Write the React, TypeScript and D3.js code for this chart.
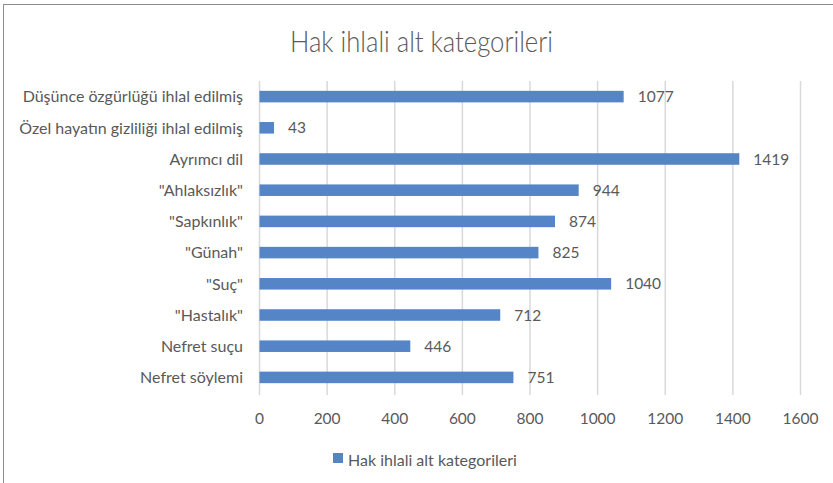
import React from "react";
import * as d3 from "d3";

const categories = [
  "Düşünce özgürlüğü ihlal edilmiş",
  "Özel hayatın gizliliği ihlal edilmiş",
  "Ayrımcı dil",
  "\"Ahlaksızlık\"",
  "\"Sapkınlık\"",
  "\"Günah\"",
  "\"Suç\"",
  "\"Hastalık\"",
  "Nefret suçu",
  "Nefret söylemi",
];
const values = [1077, 43, 1419, 944, 874, 825, 1040, 712, 446, 751];
const xTicks = [0, 200, 400, 600, 800, 1000, 1200, 1400, 1600];
const title = "Hak ihlali alt kategorileri";
const seriesName = "Hak ihlali alt kategorileri";

const W = 833;
const H = 483;
const FONT = "Lato, 'Open Sans', sans-serif";
const TEXT = "#595959";
const BAR = "#5585C6";
const GRID = "#D9D9D9";

export default function App() {
  const x = d3.scaleLinear().domain([0, 1600]).range([259.5, 800.5]);
  const y = d3
    .scaleBand<string>()
    .domain(categories)
    .range([81, 393])
    .paddingInner(0.63)
    .paddingOuter(0.315);

  return (
    <svg
      width={W}
      height={H}
      style={{ position: "absolute", left: 0, top: 0, background: "#fff" }}
      fontFamily={FONT}
    >
      <rect x={3.5} y={4.5} width={W + 10} height={H + 10} fill="#fff" stroke="#8C8C8C" strokeWidth={1} />
      <text
        x={421.5}
        y={51.5}
        textAnchor="middle"
        fontSize={29}
        fontWeight={300}
        fill={TEXT}
        textLength={263}
        lengthAdjust="spacingAndGlyphs"
      >
        {title}
      </text>
      {xTicks.map((t) => (
        <line key={"g" + t} x1={x(t)} x2={x(t)} y1={81} y2={395} stroke={GRID} strokeWidth={1.5} />
      ))}
      {categories.map((c, i) => {
        const yy = y(c)!;
        const bw = y.bandwidth();
        return (
          <g key={c}>
            <rect x={x(0)} y={yy} width={x(values[i]) - x(0)} height={bw} fill={BAR} />
            <text x={x(values[i]) + 14} y={yy + bw / 2} dy="0.36em" fontSize={15.5} fill={TEXT}>
              {values[i]}
            </text>
            <text x={243} y={yy + bw / 2} dy="0.36em" textAnchor="end" fontSize={16} fill={TEXT}>
              {c}
            </text>
          </g>
        );
      })}
      {xTicks.map((t) => (
        <text key={"t" + t} x={x(t)} y={418} dy="0.36em" textAnchor="middle" fontSize={15.5} fill={TEXT}>
          {t}
        </text>
      ))}
      <rect x={333} y={453} width={10} height={10} fill={BAR} />
      <text x={348} y={466} fontSize={16} fill={TEXT}>
        {seriesName}
      </text>
    </svg>
  );
}
